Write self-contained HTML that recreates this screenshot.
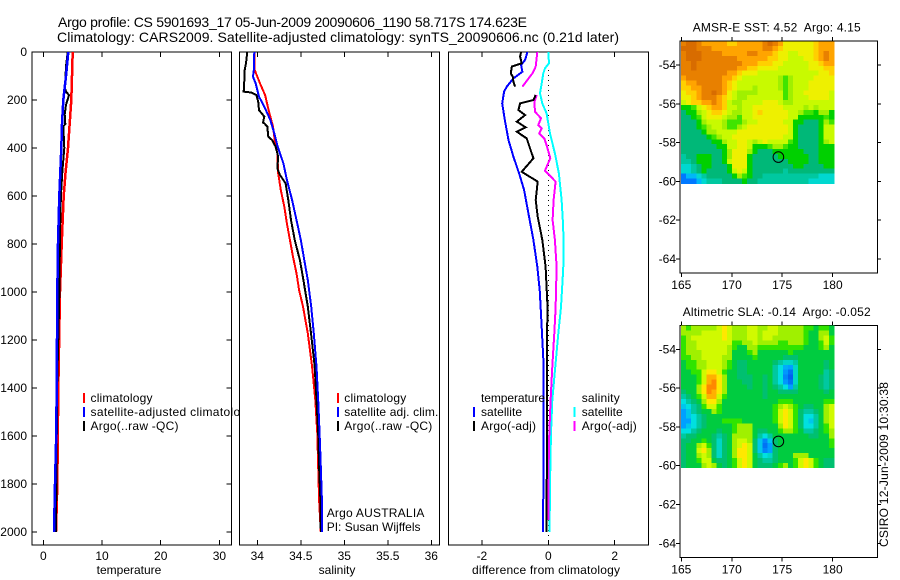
<!DOCTYPE html>
<html>
<head>
<meta charset="utf-8">
<title>Argo profile chart</title>
<style>
html,body{margin:0;padding:0;background:#fff;}
svg{display:block;}
text{font-family:"Liberation Sans",sans-serif;font-size:12px;fill:#000;white-space:pre;}
</style>
</head>
<body>
<svg id="chart" xmlns="http://www.w3.org/2000/svg" width="900" height="580" viewBox="0 0 900 580">
<rect x="0" y="0" width="900" height="580" fill="#fff"/>
<text x="58" y="27" style="font-size:14px" textLength="469">Argo profile: CS 5901693_17 05-Jun-2009 20090606_1190 58.717S 174.623E</text>
<text x="57" y="42" style="font-size:14px" textLength="562">Climatology: CARS2009. Satellite-adjusted climatology: synTS_20090606.nc (0.21d later)</text>
<text transform="translate(888 547) rotate(-90)" textLength="165">CSIRO 12-Jun-2009 10:30:38</text>
</svg>
<script>
const depthTicks = [0,200,400,600,800,1000,1200,1400,1600,1800,2000];
const tempTicks = [0,10,20,30];
const salTicks = [34,34.5,35,35.5,36];
const diffTicks = [-2,0,2];
const lonTicks = [165,170,175,180];
const latTicks = [-54,-56,-58,-60,-62,-64];

const tempClimDepth = [0,200,400,500,600,800,1000,1400,1800,2000];
const tempClim = [5.0,4.77,4.2,3.8,3.47,3.13,2.85,2.56,2.39,2.16];
const tempSatDepth = [0,100,200,300,400,500,600,800,1000,1400,1600,1800,2000];
const tempSat = [4.26,3.87,3.4,3.19,3.07,2.9,2.73,2.5,2.39,2.28,2.2,2.0,1.82];
const tempArgoDepth = [0,60,150,165,180,220,260,300,310,400,500,600,700,900,1000,1400,1800,2000];
const tempArgo = [4.15,3.87,3.7,3.87,4.38,3.87,3.65,3.75,3.4,3.58,3.23,3.0,2.89,2.78,2.75,2.35,2.24,2.16];

const salClimDepth = [0,75,130,179,242,311,367,422,506,575,644,714,783,853,922,992,1061,1172,1311,1450,1589,1728,1867,2000];
const salClim = [33.965,33.97,34.03,34.09,34.13,34.18,34.2,34.23,34.24,34.27,34.31,34.34,34.375,34.41,34.45,34.48,34.525,34.58,34.63,34.667,34.69,34.7,34.71,34.73];
const salSatDepth = [0,75,103,130,186,228,283,339,394,464,533,617,700,783,867,950,1061,1172,1311,1450,1589,1728,1867,2000];
const salSat = [33.965,33.96,33.95,33.98,34.02,34.08,34.15,34.195,34.234,34.3,34.34,34.4,34.45,34.5,34.54,34.58,34.62,34.65,34.68,34.7,34.716,34.73,34.743,34.743];
const salArgoDepth = [0,47,75,151,165,169,179,207,242,269,294,297,311,353,367,394,436,485,512,547,617,700,783,867,950,1061,1172,1311,1450,1589,1728,1867,2000];
const salArgo = [33.885,33.87,33.855,33.847,33.843,33.935,33.99,34.01,34.02,34.08,34.065,34.08,34.115,34.126,34.17,34.21,34.24,34.23,34.26,34.325,34.356,34.387,34.43,34.49,34.53,34.58,34.617,34.66,34.68,34.7,34.71,34.725,34.73];

const diffTSatDepth = [0,33,54,82,110,144,165,214,283,367,436,506,575,672,783,894,992,1068,1172,1311,1450,1630,2000];
const diffTSat = [-0.63,-0.7,-0.82,-0.78,-1.05,-1.25,-1.33,-1.39,-1.31,-1.2,-1.05,-0.88,-0.73,-0.6,-0.45,-0.33,-0.26,-0.23,-0.19,-0.14,-0.14,-0.14,-0.16];
const diffTArgoDepth = [0,19,47,61,89,103,124,144,160,179,200,214,242,263,290,314,332,360,443,499,540,617,686,783,894,1068,1172,1450,2000];
const diffTArgo = [-0.82,-0.85,-0.8,-1.1,-1.13,-1.07,-1.05,-1.0,null,-0.38,-0.45,-0.85,-0.9,-0.7,-0.95,-0.68,-0.95,-0.65,-0.45,-0.8,-0.32,-0.38,-0.32,-0.18,-0.08,-0.02,-0.04,-0.04,-0.05];
const diffSSatDepth = [0,47,68,89,130,172,214,256,339,422,506,617,728,867,950,1068,1172,1311,1450,1589,1728,1867,2000];
const diffSSat = [0,0.02,-0.1,-0.15,-0.2,-0.25,-0.18,-0.05,0.05,0.2,0.32,0.4,0.45,0.46,0.43,0.38,0.3,0.21,0.12,0.08,0.06,0.05,0.03];
const diffSArgoDepth = [0,61,89,144,160,179,207,249,276,304,318,339,360,394,443,494,540,617,700,783,894,1068,1172,1311,1450,1589,1728,1950];
const diffSArgo = [-0.33,-0.38,-0.48,-0.78,null,-0.35,-0.42,-0.4,-0.22,-0.3,-0.2,-0.27,-0.12,-0.04,0.06,-0.1,0.22,0.16,0.13,0.2,0.25,0.22,0.18,0.12,0.07,0.03,0.01,0];

const sstRows = [
[65,68,68,65,62,62,62,62,62,59,59,62,62,62,62,62,65,68,65,62,56,56,56,56,56,56,59,62,62,62],
[68,68,68,65,65,65,62,62,62,62,62,62,62,62,62,62,65,65,62,59,56,56,56,56,56,56,59,62,62,62],
[65,68,68,68,65,65,65,65,62,62,62,62,62,65,65,62,62,62,59,56,56,53,53,56,56,56,59,62,65,62],
[65,68,68,68,65,65,65,65,65,65,65,62,62,62,62,62,62,59,59,56,56,53,53,53,56,56,59,62,65,62],
[65,65,68,65,65,65,65,65,65,65,65,65,62,62,62,59,59,59,56,56,53,53,53,53,53,56,56,59,62,62],
[65,65,68,65,65,65,65,65,65,65,65,62,62,59,59,56,56,56,56,53,53,53,53,53,53,56,56,56,59,59],
[65,65,65,65,65,65,65,65,65,62,62,59,56,56,56,53,53,53,53,53,53,53,53,53,53,53,53,56,56,59],
[62,65,65,65,65,65,65,65,62,62,59,56,53,53,53,53,53,53,53,51,49,51,53,53,53,53,56,56,56,56],
[59,62,62,65,65,65,65,65,62,59,56,53,53,53,53,53,53,53,53,51,49,51,53,53,53,56,56,56,56,56],
[59,59,62,62,65,65,65,65,62,59,56,53,53,53,51,53,53,53,53,51,49,51,53,53,53,56,56,56,56,56],
[56,59,59,62,65,65,68,65,62,56,53,51,51,51,51,53,53,53,53,53,49,51,53,53,56,56,56,56,56,53],
[56,56,59,62,65,65,65,62,59,56,53,51,51,53,53,53,53,53,53,53,49,51,53,53,53,56,56,56,56,53],
[53,56,59,59,62,62,65,62,59,53,51,51,53,53,53,53,56,56,56,53,51,51,53,53,53,53,53,53,53,53],
[47,47,49,53,56,59,62,62,59,53,53,51,53,53,56,56,56,56,56,56,53,53,53,53,51,53,51,53,53,53],
[45,47,47,51,53,56,59,59,56,53,51,51,53,53,56,59,56,56,56,56,56,53,53,51,49,49,47,51,51,47],
[45,45,47,49,53,56,56,56,53,51,51,49,53,53,56,56,56,56,56,56,56,53,53,47,47,47,47,47,49,47],
[45,45,45,47,51,53,53,53,51,49,49,49,51,53,53,56,56,56,56,56,53,53,47,47,45,45,45,47,51,49],
[45,45,45,47,49,51,53,53,51,49,49,51,53,56,56,56,56,56,56,56,56,53,47,45,45,45,45,47,53,53],
[45,45,45,45,47,51,51,53,53,53,53,56,56,56,56,56,56,56,56,56,56,53,47,45,45,45,45,47,53,53],
[45,45,45,45,45,47,49,51,53,53,56,56,56,56,56,56,56,56,56,56,53,53,47,45,45,45,45,47,53,53],
[45,45,45,45,45,45,47,47,51,53,53,56,56,53,51,53,56,53,53,53,53,49,47,45,45,45,45,47,51,53],
[45,45,45,45,45,45,45,47,47,53,53,56,56,53,47,47,47,49,51,51,49,47,47,45,45,45,45,47,47,47],
[45,45,45,45,45,45,45,45,47,51,56,56,56,51,47,45,45,45,47,47,47,47,47,47,45,45,45,47,47,47],
[44,45,45,47,47,47,45,45,47,51,56,56,56,47,45,45,45,45,45,47,47,47,47,47,47,45,45,47,47,47],
[44,44,45,47,47,47,45,45,47,53,56,56,56,47,45,45,45,45,45,45,45,47,47,47,47,45,45,47,47,47],
[42,42,44,45,47,47,45,45,45,47,56,56,56,47,45,45,45,45,45,45,45,45,47,47,45,45,45,45,47,47],
[42,42,44,45,47,45,45,45,45,47,53,56,53,47,45,45,45,45,45,45,44,45,45,45,45,45,45,45,45,45],
[38,40,40,42,44,45,45,45,45,45,47,51,49,47,45,45,44,44,44,44,44,44,44,44,44,44,44,42,42,42],
[38,38,38,40,42,44,44,44,45,45,45,45,47,45,45,44,44,44,44,44,44,44,44,44,44,42,42,42,42,42]
];

const slaRows = [
[-2,-5,-2,-2,-2,-2,-2,0,3,0,-2,-2,-2,0,0,-2,-2,0,0,-2,-2,-2,-2,-2,-5,-5,-8,-5,-5,-8],
[-2,-2,-2,-2,0,0,0,0,3,0,-2,-2,-2,0,0,-2,0,0,0,-2,-2,-2,-2,-2,-5,-8,-8,-2,-2,-8],
[-5,-2,0,0,0,0,0,0,3,0,-2,-2,-2,0,0,-2,0,0,-2,-2,-2,-2,-2,-2,-5,-8,-8,-2,0,-5],
[-5,-2,-2,0,0,0,0,0,0,0,-5,-5,-2,-2,0,-2,-2,-2,-2,-5,-5,-2,-2,-2,-5,-8,-8,-5,0,-5],
[-5,-2,-2,0,0,0,0,0,0,-2,-5,-8,-8,-2,-2,-5,-5,-5,-5,-5,-5,-5,-5,-5,-8,-8,-8,-5,-2,-8],
[-5,-2,-2,-2,0,0,0,0,0,-2,-8,-8,-8,-5,-2,-8,-8,-8,-8,-8,-8,-5,-8,-8,-8,-8,-8,-8,-8,-8],
[-5,-5,-2,-2,0,0,0,0,-2,-2,-8,-8,-8,-8,-5,-8,-8,-8,-8,-8,-12,-12,-12,-8,-8,-8,-8,-8,-8,-8],
[-8,-5,-5,-2,-2,0,0,0,-2,-5,-8,-12,-12,-8,-8,-8,-8,-8,-12,-15,-18,-18,-15,-8,-8,-8,-8,-8,-12,-8],
[-8,-5,-5,-2,-2,0,0,0,-2,-5,-8,-12,-12,-8,-8,-8,-8,-8,-15,-20,-24,-25,-18,-8,-8,-8,-8,-8,-12,-8],
[-8,-8,-5,-5,0,3,3,0,-5,-8,-8,-12,-12,-8,-8,-8,-8,-8,-15,-20,-26,-30,-18,-8,-8,-8,-8,-8,-15,-12],
[-8,-8,-8,-5,0,6,6,3,-2,-8,-8,-12,-12,-12,-8,-8,-12,-8,-15,-20,-28,-32,-18,-8,-8,-8,-8,-12,-15,-12],
[-8,-8,-8,-5,0,6,9,3,-2,-8,-8,-8,-12,-12,-8,-8,-12,-8,-15,-20,-26,-30,-18,-8,-8,-8,-8,-12,-15,-12],
[-8,-8,-8,-2,3,9,9,3,-2,-8,-8,-8,-8,-12,-8,-8,-12,-8,-12,-15,-20,-25,-15,-8,-8,-8,-8,-12,-15,-12],
[-12,-8,-8,-2,3,9,6,3,-2,-8,-8,-8,-8,-8,-8,-8,-12,-8,-8,-12,-12,-12,-12,-8,-8,-8,-8,-8,-12,-8],
[-15,-12,-8,-5,0,6,6,0,-5,-8,-8,-8,-8,-8,-8,-8,-12,-8,-8,-8,-8,-8,-8,-8,-8,-8,-8,-8,-8,-8],
[-20,-15,-12,-8,-2,3,3,-2,-8,-8,-8,-8,-8,-8,-8,-8,-8,-8,-8,-5,-5,-5,-8,-8,-8,-8,-8,-8,-5,-5],
[-22,-20,-15,-12,-5,0,0,-5,-8,-8,-8,-8,-8,-8,-8,-8,-8,-8,-5,-2,0,-2,-5,-8,-12,-12,-8,-8,-2,0],
[-25,-22,-15,-12,-8,-8,-2,-5,-8,-8,-8,-8,-8,-8,-8,-8,-8,-8,-5,0,3,0,-5,-12,-15,-15,-12,-8,-2,0],
[-25,-22,-20,-15,-12,-8,-8,-8,-8,-8,-8,-8,-8,-8,-8,-8,-8,-8,-5,0,3,0,-5,-12,-20,-20,-15,-8,-2,0],
[-25,-25,-20,-15,-12,-8,-8,-8,-5,-5,-5,-5,-8,-8,-8,-8,-8,-8,-5,0,3,0,-5,-12,-20,-22,-15,-8,-2,0],
[-25,-22,-20,-15,-12,-8,-8,-8,-8,-8,-5,-2,-2,-2,-8,-8,-8,-8,-8,-2,3,0,-5,-12,-20,-20,-15,-8,-5,0],
[-20,-20,-15,-12,-8,-8,-8,-12,-8,-8,-5,-2,-2,-2,-8,-12,-12,-8,-8,-5,-2,-2,-5,-8,-15,-15,-12,-8,-5,-2],
[-15,-12,-12,-8,-8,-8,-12,-15,-12,-8,-2,-2,-2,-2,-8,-15,-20,-15,-8,-8,-8,-8,-8,-8,-8,-12,-12,-8,-8,-2],
[-12,-12,-8,-8,-5,-8,-12,-18,-12,-8,-2,0,0,-2,-12,-22,-28,-22,-12,-8,-8,-8,-8,-8,-8,-8,-8,-8,-8,-5],
[-12,-8,-8,-2,0,-5,-12,-18,-12,-8,-2,0,3,0,-12,-22,-30,-25,-12,-8,-8,-8,-8,-8,-8,-8,-8,-8,-8,-5],
[-12,-8,-8,0,3,-2,-12,-18,-12,-8,-2,3,3,0,-12,-22,-28,-25,-12,-8,-8,-8,-8,-8,-8,-8,-8,-8,-8,-8],
[-12,-8,-8,-2,0,-2,-12,-18,-12,-8,-2,3,3,0,-8,-15,-20,-18,-12,-8,-8,-8,-2,-2,-2,-8,-8,-8,-8,-8],
[-12,-8,-8,-5,0,0,-8,-12,-12,-8,-5,0,3,0,-8,-12,-15,-15,-12,-8,-8,-8,-5,0,3,0,-5,-8,-12,-12],
[-12,-8,-8,-8,-2,0,-2,-8,-12,-8,-5,0,3,0,-8,-12,-12,-12,-8,-5,-2,-8,-5,0,3,0,-5,-8,-12,-12]
];

const sstStopValues = [38,40,42,44,45,47,49,51,53,56,59,62,65,68];
const sstStopColors = ['#0078ff','#00b8f8','#00d8d0','#00c8a0','#00b878','#00d000','#40e400','#a0f000','#c8fa00','#eef000','#ffd000','#ffa400','#e88000','#d86c00'];
const slaStopValues = [-32,-25,-20,-15,-12,-8,-5,-2,0,3,6,9];
const slaStopColors = ['#0060f0','#00a0ff','#00e0e0','#00c8a0','#00c070','#00cc40','#30e400','#a0f000','#d0fa00','#ffe800','#ffb000','#ff8800'];

const profileLon = 174.623;
const profileLat = -58.717;

const svg = document.getElementById('chart');
const NS = 'http://www.w3.org/2000/svg';
const INK = '#000';
const yDepth = d => 52 + 0.24 * d;
const xTemp = v => 43.3 + 5.87 * v;
const xSal = v => 257.3 + 87 * (v - 34);
const xDiff = v => 548.3 + 33.2 * v;
const xLon = v => 681.3 + 10.09 * (v - 165);
const yLat = (v, top) => top + 24 + 19.4 * (-54 - v);

function make(tag, name, attrs) {
  const el = document.createElementNS(NS, tag);
  
  
  for (const k in attrs) el.setAttribute(k, attrs[k]);
  svg.appendChild(el);
  return el;
}
function line(name, x1, y1, x2, y2, w) {
  return make('line', name, {x1, y1, x2, y2, stroke: INK, 'stroke-width': w || 1, 'shape-rendering': 'crispEdges'});
}
function label(name, x, y, str, anchor) {
  const t = make('text', name, {x, y, 'text-anchor': anchor || 'start'});
  t.textContent = str;
  return t;
}
function frame(name, l, t, r, b) {
  make('rect', name, {x: l, y: t, width: r - l, height: b - t, fill: '#fff', stroke: INK, 'stroke-width': 1, 'shape-rendering': 'crispEdges'});
}
function profile(name, color, depths, values, xFn, width) {
  let d = '';
  let pen = false;
  for (let i = 0; i < depths.length; i++) {
    if (values[i] === null) { pen = false; continue; }
    d += (pen ? 'L' : 'M') + xFn(values[i]).toFixed(1) + ' ' + yDepth(depths[i]).toFixed(1);
    pen = true;
  }
  make('path', name, {d, fill: 'none', stroke: color, 'stroke-width': width || 2, 'shape-rendering': 'crispEdges'});
}
function legendEntry(name, barX, textX, baseline, color, str, len) {
  if (color) {
    make('rect', name + '-swatch', {x: barX, y: baseline - 9, width: 2, height: 10, fill: color, 'shape-rendering': 'crispEdges'});
  }
  const t = label(name, textX, baseline, str);
  if (len) t.setAttribute('textLength', len);
}
function xAxis(prefix, ticks, xFn) {
  ticks.forEach(v => {
    line(prefix + '-top-tick', xFn(v), 52, xFn(v), 57);
    line(prefix + '-bottom-tick', xFn(v), 540, xFn(v), 545);
    label(prefix + '-tick-label', xFn(v), 560, String(v), 'middle');
  });
}
function mixColor(stops, colors, v) {
  if (v <= stops[0]) return colors[0];
  for (let i = 1; i < stops.length; i++) {
    if (v <= stops[i]) {
      const f = (v - stops[i - 1]) / (stops[i] - stops[i - 1]);
      const a = colors[i - 1], b = colors[i];
      const ch = p => Math.round(parseInt(a.substr(p, 2), 16) * (1 - f) + parseInt(b.substr(p, 2), 16) * f);
      return 'rgb(' + ch(1) + ',' + ch(3) + ',' + ch(5) + ')';
    }
  }
  return colors[colors.length - 1];
}
function mapPanel(prefix, top, rows, stops, colors, title, titleLen, titleX) {
  const bottom = top + 232;
  frame(prefix + '-frame', 680, top, 877.5, bottom);
  rows.forEach((row, j) => {
    row.forEach((v, i) => {
      const x = xLon(164.97 + 0.505 * i);
      const y = yLat(-52.78 - 0.2525 * j, top);
      make('rect', prefix + '-cell', {x: x.toFixed(2), y: y.toFixed(2), width: 5.6, height: 5.4, fill: mixColor(stops, colors, v), 'shape-rendering': 'crispEdges'});
    });
  });
  lonTicks.forEach(v => {
    line(prefix + '-top-tick', xLon(v), top - 4, xLon(v), top);
    line(prefix + '-bottom-tick', xLon(v), bottom, xLon(v), bottom + 4);
    label(prefix + '-lon-label', xLon(v), bottom + 16, String(v), 'middle');
  });
  latTicks.forEach(v => {
    const y = yLat(v, top);
    line(prefix + '-left-tick', 676, y, 680, y);
    line(prefix + '-right-tick', 877.5, y, 881, y);
    label(prefix + '-lat-label', 676, y + 4, String(v), 'end');
  });
  make('circle', prefix + '-profile-marker', {cx: xLon(profileLon), cy: yLat(profileLat, top) + 0.6, r: 5.3, fill: 'none', stroke: INK, 'stroke-width': 1});
  const t = label(prefix + '-title', titleX, top - 9.5, title);
  t.setAttribute('textLength', titleLen);
}

/* temperature panel */
frame('temperature-panel-frame', 32, 52, 231.5, 545);
depthTicks.forEach(d => {
  line('depth-left-tick', 32, yDepth(d), 37, yDepth(d));
  line('depth-right-tick', 226.5, yDepth(d), 231.5, yDepth(d));
  label('depth-tick-label', 27, yDepth(d) + 4, String(d), 'end');
});
xAxis('temperature', tempTicks, xTemp);
profile('temperature-climatology-line', '#ff0000', tempClimDepth, tempClim, xTemp, 2.5);
profile('temperature-argo-line', '#000000', tempArgoDepth, tempArgo, xTemp);
profile('temperature-satellite-line', '#0000ff', tempSatDepth, tempSat, xTemp, 2.5);
label('temperature-axis-title', 129, 574, 'temperature', 'middle');
legendEntry('temperature-legend-climatology', 83, 90.5, 402, '#ff0000', 'climatology', 62);
legendEntry('temperature-legend-satellite', 83, 90.5, 416, '#0000ff', 'satellite-adjusted climatology', 163);
legendEntry('temperature-legend-argo', 83, 90.5, 430, '#000000', 'Argo(..raw -QC)', 88);

/* salinity panel */
frame('salinity-panel-frame', 239.5, 52, 439.5, 545);
xAxis('salinity', salTicks, xSal);
profile('salinity-climatology-line', '#ff0000', salClimDepth, salClim, xSal);
profile('salinity-argo-line', '#000000', salArgoDepth, salArgo, xSal);
profile('salinity-satellite-line', '#0000ff', salSatDepth, salSat, xSal);
label('salinity-axis-title', 337, 574, 'salinity', 'middle');
legendEntry('salinity-legend-climatology', 337, 344.3, 402, '#ff0000', 'climatology', 62);
legendEntry('salinity-legend-satellite', 337, 344.3, 416, '#0000ff', 'satellite adj. clim.', 94);
legendEntry('salinity-legend-argo', 337, 344.3, 430, '#000000', 'Argo(..raw -QC)', 88);
label('argo-source-label', 326.7, 517, 'Argo AUSTRALIA').setAttribute('textLength', 97.7);
label('principal-investigator-label', 326.7, 531, 'PI: Susan Wijffels');

/* difference panel */
frame('difference-panel-frame', 448.5, 52, 648.5, 545);
xAxis('difference', diffTicks, xDiff);
make('line', 'zero-reference-line', {x1: xDiff(0), y1: 70, x2: xDiff(0), y2: 545, stroke: INK, 'stroke-width': 1, 'stroke-dasharray': '1 4', 'shape-rendering': 'crispEdges'});
profile('difference-temperature-satellite-line', '#0000ff', diffTSatDepth, diffTSat, xDiff);
profile('difference-salinity-satellite-line', '#00ffff', diffSSatDepth, diffSSat, xDiff);
profile('difference-salinity-argo-line', '#ff00ff', diffSArgoDepth, diffSArgo, xDiff);
profile('difference-temperature-argo-line', '#000000', diffTArgoDepth, diffTArgo, xDiff);
const diffTitle = label('difference-axis-title', 472, 574, 'difference from climatology');
diffTitle.setAttribute('textLength', 148);
legendEntry('difference-legend-temperature-heading', 0, 481, 402, null, 'temperature', 64);
legendEntry('difference-legend-temperature-satellite', 473, 481, 416, '#0000ff', 'satellite', 41);
legendEntry('difference-legend-temperature-argo', 473, 481, 430, '#000000', 'Argo(-adj)', 55);
legendEntry('difference-legend-salinity-heading', 0, 581.7, 402, null, 'salinity', 38);
legendEntry('difference-legend-salinity-satellite', 573.5, 581.7, 416, '#00ffff', 'satellite', 41);
legendEntry('difference-legend-salinity-argo', 573.5, 581.7, 430, '#ff00ff', 'Argo(-adj)', 55);

/* maps */
mapPanel('sst-map', 41, sstRows, sstStopValues, sstStopColors, 'AMSR-E SST: 4.52  Argo: 4.15', 168, 692.7);
mapPanel('sla-map', 325.3, slaRows, slaStopValues, slaStopColors, 'Altimetric SLA: -0.14  Argo: -0.052', 188, 682.7);
</script>
</body>
</html>
